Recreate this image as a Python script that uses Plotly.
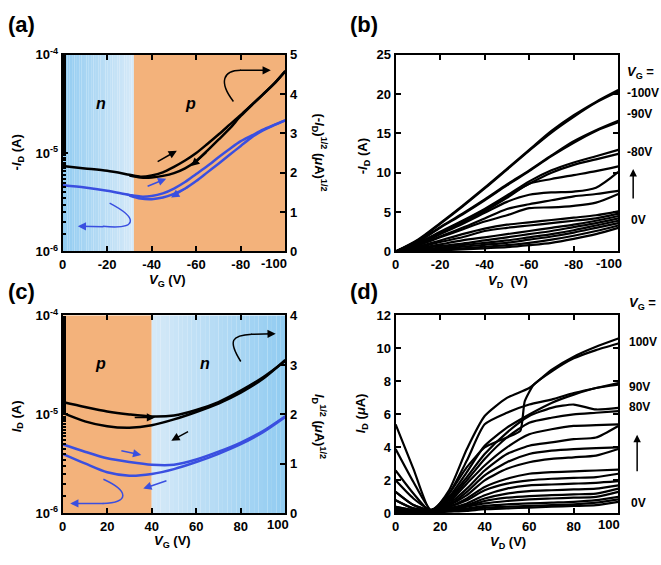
import plotly.graph_objects as go

# ---------------- DATA ----------------
# (a) transfer curve, p-sweep (V_G negative)
VG_a_fwd = [0, -10, -20, -30, -35, -40, -45, -50, -55, -60, -65, -70, -75, -80, -85, -90, -95, -100]
sqrt_a_fwd = [2.17, 2.11, 2.05, 1.95, 1.90, 1.93, 2.01, 2.15, 2.31, 2.50, 2.73, 2.97, 3.22, 3.47, 3.73, 3.99, 4.26, 4.58]
VG_a_bwd = [-100, -95, -90, -85, -80, -75, -70, -65, -60, -55, -50, -45, -40, -35, -30]
sqrt_a_bwd = [4.58, 4.26, 3.99, 3.72, 3.44, 3.12, 2.84, 2.56, 2.30, 2.11, 1.99, 1.92, 1.88, 1.88, 1.93]
log_a_fwd = [4.70e-6, 4.46e-6, 4.13e-6, 3.75e-6, 3.61e-6, 3.66e-6, 3.89e-6, 4.36e-6, 5.07e-6, 6.12e-6, 7.39e-6,
             9.06e-6, 1.10e-5, 1.32e-5, 1.51e-5, 1.73e-5, 1.93e-5, 2.15e-5]
log_a_bwd = [2.15e-5, 1.92e-5, 1.70e-5, 1.45e-5, 1.18e-5, 9.6e-6, 7.79e-6, 6.36e-6, 5.19e-6, 4.36e-6, 3.84e-6,
             3.53e-6, 3.40e-6, 3.45e-6, 3.70e-6]

# (c) transfer curve, n-sweep (V_G positive)
VG_c = [0, 10, 20, 30, 40, 50, 60, 70, 80, 90, 100]
sqrt_c_fwd = [2.25, 2.15, 2.06, 2.00, 1.96, 1.98, 2.09, 2.25, 2.48, 2.75, 3.08]
sqrt_c_bwd = [2.03, 1.86, 1.76, 1.73, 1.78, 1.90, 2.05, 2.22, 2.44, 2.72, 3.10]
log_c_fwd = [5.0e-6, 4.2e-6, 3.6e-6, 3.3e-6, 3.1e-6, 3.1e-6, 3.5e-6, 4.2e-6, 5.2e-6, 6.8e-6, 9.6e-6]
log_c_bwd = [4.0e-6, 3.2e-6, 2.6e-6, 2.4e-6, 2.5e-6, 2.8e-6, 3.3e-6, 4.0e-6, 5.0e-6, 6.6e-6, 9.4e-6]

# (b) output curves, -I_D vs V_D
VD_b = [0, -10, -20, -30, -40, -50, -60, -70, -80, -90, -100]
ID_b = [
    [0, 1.5, 3.6, 5.8, 8.1, 10.5, 12.9, 15.3, 17.3, 19.0, 20.5],
    [0, 1.4, 3.5, 5.7, 8.0, 10.4, 12.8, 15.1, 17.1, 18.9, 20.3],
    [0, 1.3, 3.1, 4.8, 6.6, 8.5, 10.3, 12.2, 14.0, 15.4, 16.6],
    [0, 1.2, 3.0, 4.7, 6.5, 8.4, 10.2, 12.1, 13.8, 15.3, 16.4],
    [0, 1.1, 2.5, 3.9, 5.4, 7.1, 8.9, 10.3, 11.3, 12.1, 12.9],
    [0, 1.0, 2.4, 3.8, 5.3, 7.0, 8.6, 10.0, 11.0, 11.7, 12.4],
    [0, 1.0, 2.3, 3.6, 5.1, 6.8, 8.6, 9.2, 9.7, 10.2, 10.8],
    [0, 0.9, 2.2, 3.5, 4.9, 6.3, 7.2, 7.5, 7.6, 8.1, 10.1],
    [0, 0.8, 1.9, 3.0, 4.2, 5.4, 6.0, 6.5, 7.0, 7.3, 7.7],
    [0, 0.8, 1.8, 2.8, 3.8, 4.6, 5.5, 5.6, 5.8, 6.2, 7.3],
    [0, 0.6, 1.4, 2.2, 2.9, 3.4, 3.7, 4.0, 4.3, 4.6, 5.1],
    [0, 0.5, 1.2, 1.8, 2.6, 3.0, 3.3, 3.6, 3.9, 4.2, 4.8],
    [0, 0.4, 0.9, 1.4, 1.8, 2.2, 2.6, 3.0, 3.4, 3.9, 4.5],
    [0, 0.3, 0.7, 1.0, 1.4, 1.8, 2.2, 2.6, 3.1, 3.6, 4.2],
    [0, 0.2, 0.5, 0.8, 1.1, 1.4, 1.8, 2.2, 2.7, 3.3, 3.9],
    [0, 0.15, 0.35, 0.6, 0.85, 1.1, 1.5, 1.9, 2.4, 3.0, 3.6],
    [0, 0.1, 0.25, 0.4, 0.6, 0.8, 1.1, 1.5, 2.0, 2.6, 3.3],
    [0, 0.05, 0.15, 0.25, 0.4, 0.55, 0.8, 1.1, 1.6, 2.2, 3.0],
]

# (d) output curves, I_D vs V_D
VD_d = [0, 8, 16, 24, 32, 40, 50, 60, 70, 80, 90, 100]
ID_d = [
    [5.4, 2.7, 0.1, 1.4, 3.9, 5.9, 7.0, 7.6, 8.7, 9.5, 10.1, 10.6],
    [2.6, 1.2, 0.1, 1.2, 3.2, 5.4, 6.1, 6.6, 6.9, 7.3, 7.6, 7.9],
    [2.0, 0.9, 0.2, 1.0, 2.5, 4.1, 5.2, 6.0, 6.7, 7.2, 7.6, 7.8],
    [1.3, 0.5, 0.2, 0.9, 2.2, 3.6, 4.9, 5.9, 6.4, 6.6, 6.3, 6.4],
    [1.3, 0.5, 0.2, 0.8, 2.0, 3.3, 4.6, 5.5, 5.8, 6.0, 6.1, 6.2],
    [0.8, 0.3, 0.2, 0.7, 1.8, 2.9, 4.0, 4.8, 5.1, 5.3, 5.35, 5.4],
    [0.8, 0.3, 0.2, 0.6, 1.5, 2.6, 3.6, 4.1, 4.3, 4.5, 4.6, 5.3],
    [0.4, 0.2, 0.2, 0.5, 1.3, 2.3, 3.1, 3.6, 3.8, 3.9, 3.95, 4.0],
    [0.4, 0.2, 0.2, 0.5, 1.1, 2.0, 2.7, 3.1, 3.3, 3.4, 3.5, 3.9],
    [0.3, 0.15, 0.2, 0.4, 0.9, 1.6, 2.1, 2.4, 2.5, 2.55, 2.6, 2.65],
    [0.3, 0.15, 0.2, 0.4, 0.8, 1.4, 1.8, 2.0, 2.1, 2.15, 2.2, 2.4],
    [0.2, 0.1, 0.15, 0.3, 0.6, 1.1, 1.5, 1.7, 1.75, 1.8, 1.85, 1.95],
    [0.2, 0.1, 0.15, 0.3, 0.5, 0.9, 1.2, 1.35, 1.4, 1.45, 1.5, 1.7],
    [0.15, 0.05, 0.1, 0.25, 0.45, 0.75, 0.95, 1.05, 1.1, 1.15, 1.2, 1.5],
    [0.1, 0.05, 0.1, 0.2, 0.4, 0.6, 0.75, 0.85, 0.9, 0.95, 1.0, 1.3],
    [0.1, 0.05, 0.1, 0.2, 0.3, 0.45, 0.55, 0.6, 0.65, 0.7, 0.8, 1.0],
    [0.05, 0.05, 0.1, 0.15, 0.25, 0.35, 0.4, 0.45, 0.5, 0.55, 0.65, 0.85],
    [0.05, 0.02, 0.05, 0.1, 0.15, 0.25, 0.3, 0.35, 0.4, 0.45, 0.5, 0.7],
]
# (d) curve with abrupt jump
VD_d_jump = [0, 8, 16, 24, 32, 40, 50, 56, 58, 62, 70, 80, 90, 100]
ID_d_jump = [3.9, 1.9, 0.2, 1.2, 2.8, 4.0, 4.6, 5.0, 6.8, 7.8, 8.6, 9.4, 9.9, 10.3]

# tick labels (last label of each x axis is drawn as a left-shifted annotation)
log_tickvals = [1e-6, 1e-5, 1e-4]
log_ticktext = ["<b>10<sup>-6</sup></b>", "<b>10<sup>-5</sup></b>", "<b>10<sup>-4</sup></b>"]
xa_tickvals = [0, -20, -40, -60, -80, -100]
xa_ticktext = ["0", "-20", "-40", "-60", "-80", ""]
xb_ticktext = ["0", "-20", "-40", "-60", "-80", ""]
xc_tickvals = [0, 20, 40, 60, 80, 100]
xc_ticktext = ["0", "20", "40", "60", "80", ""]
boundary_a = -32
boundary_c = 40

# ---------------- STYLE ----------------
W, H = 661, 565
BLACK = "#000000"
BLUE = "#3a4fe0"
ORANGE = "#f3b27b"
FONT = "Liberation Sans"

def px2paper_x(px):
    return px / W

def px2paper_y(py):
    return 1 - py / H

# panel boxes in pixels (left, right, top, bottom)
box_a = (59, 283, 47, 250)
box_b = (394, 618, 47, 250)
box_c = (59, 283, 316, 520)
box_d = (394, 618, 316, 520)

def dom(box):
    l, r, t, b = box
    return [px2paper_x(l), px2paper_x(r)], [px2paper_y(b), px2paper_y(t)]

fig = go.Figure()

def line(color, width=2.5, smoothing=0.8):
    return dict(color=color, width=width, shape="spline", smoothing=smoothing)

# (a) traces
fig.add_trace(go.Scatter(x=VG_a_fwd, y=sqrt_a_fwd, xaxis="x", yaxis="y2", mode="lines", line=line(BLACK)))
fig.add_trace(go.Scatter(x=VG_a_bwd, y=sqrt_a_bwd, xaxis="x", yaxis="y2", mode="lines", line=line(BLACK)))
fig.add_trace(go.Scatter(x=VG_a_fwd, y=log_a_fwd, xaxis="x", yaxis="y", mode="lines", line=line(BLUE)))
fig.add_trace(go.Scatter(x=VG_a_bwd, y=log_a_bwd, xaxis="x", yaxis="y", mode="lines", line=line(BLUE)))

# (b) traces
for ys in ID_b:
    fig.add_trace(go.Scatter(x=VD_b, y=ys, xaxis="x2", yaxis="y3", mode="lines", line=line(BLACK, 2.2)))

# (c) traces
fig.add_trace(go.Scatter(x=VG_c, y=sqrt_c_fwd, xaxis="x3", yaxis="y5", mode="lines", line=line(BLACK)))
fig.add_trace(go.Scatter(x=VG_c, y=sqrt_c_bwd, xaxis="x3", yaxis="y5", mode="lines", line=line(BLACK)))
fig.add_trace(go.Scatter(x=VG_c, y=log_c_fwd, xaxis="x3", yaxis="y4", mode="lines", line=line(BLUE)))
fig.add_trace(go.Scatter(x=VG_c, y=log_c_bwd, xaxis="x3", yaxis="y4", mode="lines", line=line(BLUE)))

# (d) traces
for ys in ID_d:
    fig.add_trace(go.Scatter(x=VD_d, y=ys, xaxis="x4", yaxis="y6", mode="lines", line=line(BLACK, 2.2, 0.6)))
fig.add_trace(go.Scatter(x=VD_d_jump, y=ID_d_jump, xaxis="x4", yaxis="y6", mode="lines", line=line(BLACK, 2.2, 0.5)))

# ---------------- AXES ----------------
tickfont = dict(family=FONT, size=13, color="black", weight="bold")
common = dict(showline=True, linecolor="black", linewidth=2, ticks="inside", ticklen=5, tickwidth=2,
              tickcolor="black", showgrid=False, zeroline=False, tickfont=tickfont)
minor_log = dict(ticks="inside", ticklen=3, tickwidth=1.5, tickcolor="black", showgrid=False)

xd, yd = dom(box_a)
fig.update_layout(
    xaxis=dict(domain=xd, anchor="y", range=[0, -100], tickvals=xa_tickvals, ticktext=xa_ticktext,
               mirror="ticks", **common),
    yaxis=dict(domain=yd, anchor="x", type="log", range=[-6, -4], tickvals=log_tickvals, ticktext=log_ticktext,
               minor=minor_log, **common),
    yaxis2=dict(overlaying="y", anchor="x", side="right", range=[0, 5], dtick=1, **common),
)
xd, yd = dom(box_b)
fig.update_layout(
    xaxis2=dict(domain=xd, anchor="y3", range=[0, -100], tickvals=xa_tickvals, ticktext=xb_ticktext,
                mirror="ticks", **common),
    yaxis3=dict(domain=yd, anchor="x2", range=[0, 25], dtick=5, mirror="ticks", **common),
)
xd, yd = dom(box_c)
fig.update_layout(
    xaxis3=dict(domain=xd, anchor="y4", range=[0, 100], tickvals=xc_tickvals, ticktext=xc_ticktext,
                mirror="ticks", **common),
    yaxis4=dict(domain=yd, anchor="x3", type="log", range=[-6, -4], tickvals=log_tickvals, ticktext=log_ticktext,
                minor=minor_log, **common),
    yaxis5=dict(overlaying="y4", anchor="x3", side="right", range=[0, 4], dtick=1, **common),
)
xd, yd = dom(box_d)
fig.update_layout(
    xaxis4=dict(domain=xd, anchor="y6", range=[0, 100], tickvals=xc_tickvals, ticktext=xc_ticktext,
                mirror="ticks", **common),
    yaxis6=dict(domain=yd, anchor="x4", range=[0, 12], dtick=2, mirror="ticks", **common),
)

# ---------------- BACKGROUND GRADIENTS ----------------
shapes = []

def lerp(c1, c2, t):
    return "rgb(%d,%d,%d)" % tuple(round(a + (b - a) * t) for a, b in zip(c1, c2))

dark_blue = (145, 203, 241)
light_blue = (214, 234, 248)
N = 30
for i in range(N):
    x0 = boundary_a * i / N
    x1 = boundary_a * (i + 1) / N
    shapes.append(dict(type="rect", xref="x", yref="y domain", x0=x0, x1=x1, y0=0, y1=1,
                       fillcolor=lerp(dark_blue, light_blue, (i + 0.5) / N), line=dict(width=0), layer="below"))
shapes.append(dict(type="rect", xref="x", yref="y domain", x0=boundary_a, x1=-100, y0=0, y1=1,
                   fillcolor=ORANGE, line=dict(width=0), layer="below"))
shapes.append(dict(type="rect", xref="x3", yref="y4 domain", x0=0, x1=boundary_c, y0=0, y1=1,
                   fillcolor=ORANGE, line=dict(width=0), layer="below"))
for i in range(N):
    x0 = boundary_c + (100 - boundary_c) * i / N
    x1 = boundary_c + (100 - boundary_c) * (i + 1) / N
    shapes.append(dict(type="rect", xref="x3", yref="y4 domain", x0=x0, x1=x1, y0=0, y1=1,
                       fillcolor=lerp(light_blue, dark_blue, (i + 0.5) / N), line=dict(width=0), layer="below"))

# curved arrow bodies
shapes.append(dict(type="path", xref="x", yref="y2", path="M -76.7,3.81 C -70,4.3 -72,4.6 -80,4.6",
                   line=dict(color=BLACK, width=1.5)))
shapes.append(dict(type="path", xref="x", yref="y2", path="M -21.1,1.23 C -34,0.85 -34,0.55 -18,0.64",
                   line=dict(color=BLUE, width=1.5)))
shapes.append(dict(type="path", xref="x3", yref="y5", path="M 80,3.07 C 74,3.5 76,3.6 85,3.62",
                   line=dict(color=BLACK, width=1.5)))
shapes.append(dict(type="path", xref="x3", yref="y5", path="M 18.3,0.69 C 30,0.45 30,0.22 18,0.2",
                   line=dict(color=BLUE, width=1.5)))

fig.update_layout(shapes=shapes)

# ---------------- ANNOTATIONS ----------------
ann = []

def txt(px, py, text, size=13, angle=0, xanchor="center", color="black"):
    ann.append(dict(x=px2paper_x(px), y=px2paper_y(py), xref="paper", yref="paper", text=text, showarrow=False,
                    textangle=angle, xanchor=xanchor, yanchor="middle",
                    font=dict(family=FONT, size=size, color=color)))

def arrow(xr, yr, x0, y0, x1, y1, color):
    ann.append(dict(x=x1, y=y1, ax=x0, ay=y0, xref=xr, yref=yr, axref=xr, ayref=yr, text="", showarrow=True,
                    arrowhead=2, arrowsize=1.1, arrowwidth=1.5, arrowcolor=color))

def up_arrow(px, py_tail, py_head):
    ann.append(dict(x=px2paper_x(px), y=px2paper_y(py_head), xref="paper", yref="paper",
                    ax=0, ay=py_tail - py_head, axref="pixel", ayref="pixel", text="", showarrow=True,
                    arrowhead=2, arrowsize=1, arrowwidth=1.5, arrowcolor="black"))

# last x tick labels, shifted left as in the reference
txt(272, 262, "<b>-100</b>", 13)
txt(609, 262, "<b>-100</b>", 13)
txt(276, 532, "<b>100</b>", 13)
txt(609, 532, "<b>100</b>", 13)

# panel labels
txt(18, 16, "<b>(a)</b>", 22)
txt(362, 16, "<b>(b)</b>", 22)
txt(18, 291, "<b>(c)</b>", 22)
txt(362, 291, "<b>(d)</b>", 22)

# axis titles
txt(14, 148, "<b>-<i>I</i><sub>D</sub> (A)</b>", 13, angle=-90)
txt(164, 280, "<b><i>V</i><sub>G</sub> (V)</b>", 13)
txt(318, 148, "<b>(-<i>I</i><sub>D</sub>)<sup>1/2</sup> (<i>μ</i>A)<sup>1/2</sup></b>", 13, angle=90)
txt(362, 152, "<b>-<i>I</i><sub>D</sub> (A)</b>", 13, angle=-90)
txt(507, 281, "<b><i>V</i><sub>D</sub>  (V)</b>", 13)
txt(13, 420, "<b><i>I</i><sub>D</sub> (A)</b>", 13, angle=-90)
txt(170, 549, "<b><i>V</i><sub>G</sub> (V)</b>", 13)
txt(317, 430, "<b><i>I</i><sub>D</sub><sup>1/2</sup> (<i>μ</i>A)<sup>1/2</sup></b>", 13, angle=90)
txt(360, 417, "<b><i>I</i><sub>D</sub> (<i>μ</i>A)</b>", 13, angle=-90)
txt(507, 550, "<b><i>V</i><sub>D</sub> (V)</b>", 13)

# n / p labels
txt(98, 97, "<b><i>n</i></b>", 16)
txt(188, 97, "<b><i>p</i></b>", 16)
txt(97, 365, "<b><i>p</i></b>", 16)
txt(202, 365, "<b><i>n</i></b>", 16)

# V_G labels (b)
txt(625, 65, "<b><i>V</i><sub>G</sub> =</b>", 13, xanchor="left")
txt(625, 87, "<b>-100V</b>", 12, xanchor="left")
txt(625, 108, "<b>-90V</b>", 12, xanchor="left")
txt(625, 147, "<b>-80V</b>", 12, xanchor="left")
txt(629, 218, "<b>0V</b>", 12, xanchor="left")
up_arrow(633, 196, 165)
# V_G labels (d)
txt(627, 304, "<b><i>V</i><sub>G</sub> =</b>", 13, xanchor="left")
txt(627, 343, "<b>100V</b>", 12, xanchor="left")
txt(627, 390, "<b>90V</b>", 12, xanchor="left")
txt(627, 410, "<b>80V</b>", 12, xanchor="left")
txt(629, 509, "<b>0V</b>", 12, xanchor="left")
up_arrow(637, 477, 439)

# sweep direction arrows (a)
arrow("x", "y2", -42.0, 2.26, -51.3, 2.56, BLACK)
arrow("x", "y2", -65.1, 2.54, -57.7, 2.17, BLACK)
arrow("x", "y2", -37.5, 1.64, -46.5, 1.85, BLUE)
arrow("x", "y2", -57.0, 1.66, -48.7, 1.37, BLUE)
arrow("x", "y2", -79, 4.6, -93.5, 4.6, BLACK)
arrow("x", "y2", -19, 0.63, -6.8, 0.64, BLUE)
# sweep direction arrows (c)
arrow("x3", "y5", 31.7, 1.94, 41.5, 1.94, BLACK)
arrow("x3", "y5", 57.0, 1.67, 48.8, 1.47, BLACK)
arrow("x3", "y5", 25.7, 1.27, 35.3, 1.18, BLUE)
arrow("x3", "y5", 47.3, 0.67, 36.2, 0.50, BLUE)
arrow("x3", "y5", 84, 3.62, 95.7, 3.63, BLACK)
arrow("x3", "y5", 19, 0.2, 3.4, 0.2, BLUE)

fig.update_layout(
    annotations=ann,
    width=W, height=H,
    margin=dict(l=0, r=0, t=0, b=0),
    paper_bgcolor="white", plot_bgcolor="rgba(0,0,0,0)",
    showlegend=False,
    font=dict(family=FONT, size=12, color="black"),
)

# pin the 661x565 figure to the top-left corner of the window so the page is exactly the figure
PAGE_JS = (
    "document.documentElement.style.margin='0';"
    "document.body.style.margin='0';"
    "document.documentElement.style.overflow='hidden';"
    "document.body.style.overflow='hidden';"
    "var g=document.getElementsByClassName('plotly-graph-div')[0];"
    "g.style.position='fixed';g.style.left='0px';g.style.top='0px';"
)
fig.write_html("out.html", config={"displayModeBar": False}, post_script=PAGE_JS)
